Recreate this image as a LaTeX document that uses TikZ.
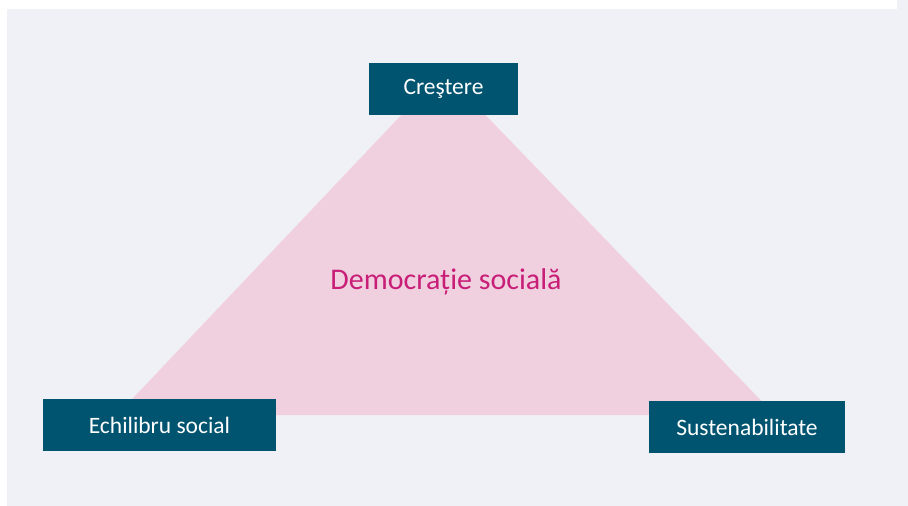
\documentclass[tikz,border=0pt]{standalone}
\usepackage{fontspec}
\setmainfont{Carlito}
\usetikzlibrary{positioning}
\definecolor{bggray}{RGB}{240,241,246}
\definecolor{pillarblue}{RGB}{0,84,112}
\definecolor{tripink}{RGB}{240,208,222}
\definecolor{coremagenta}{RGB}{200,30,120}
\tikzstyle{pillar} = [rectangle, text centered, fill=pillarblue, text=white, minimum height=52pt, inner sep=0pt, font=\fontsize{23.5}{28}\selectfont]
\tikzstyle{core} = [text=coremagenta, font=\fontsize{30}{36}\selectfont]

\begin{document}
\begin{tikzpicture}[x=1pt, y=-1pt]

\useasboundingbox (0,0) rectangle (908,506);
\fill [bggray] (7,9) rectangle (908,506);
\fill [bggray] (897,0) rectangle (908,9);
\fill [tripink] (443,71) -- (117,415) -- (775,415) -- cycle;

\node (0) [pillar, minimum width=149pt] at (443.5,89) {Creştere};
\node (1) [pillar, minimum width=233pt] at (159.5,425) {Echilibru social};
\node (2) [pillar, minimum width=196pt] at (747,427) {Sustenabilitate};
\node (3) [core] at (446,282) {Democrație socială};

\end{tikzpicture}
\end{document}
